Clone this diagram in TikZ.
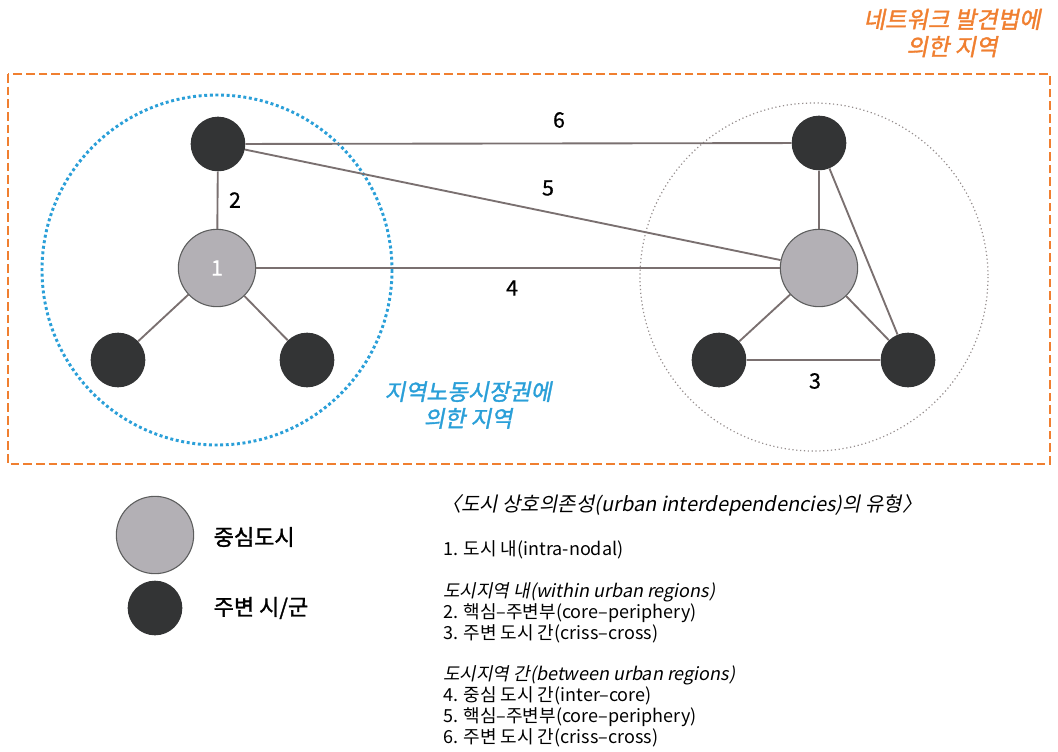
\documentclass[tikz,border=0pt]{standalone}
\usepackage{fontspec}
\setmainfont{Noto Sans CJK KR}
\newfontfamily\krit{Noto Sans CJK KR}[FakeSlant=0.2]
\newfontfamily\krbd{Noto Sans CJK KR}[FakeBold=1.5]
\newfontfamily\krbi{Noto Sans CJK KR}[FakeSlant=0.2,FakeBold=1.5]
\newfontfamily\krmd{Noto Sans CJK KR}[FakeBold=0.8]
\usetikzlibrary{positioning}
\definecolor{netorange}{HTML}{F07F30}
\definecolor{lmblue}{HTML}{2A9FD8}
\definecolor{linkgray}{HTML}{7A7070}
\definecolor{coregray}{HTML}{B3B0B5}
\definecolor{satdark}{HTML}{333435}

\begin{document}
\begin{tikzpicture}[x=0.75pt, y=-0.75pt,
    core/.style={circle, draw=satdark!80, line width=0.8pt, fill=coregray, minimum size=58pt, inner sep=0pt},
    sat/.style={circle, fill=satdark, minimum size=41pt, inner sep=0pt},
    link/.style={draw=linkgray, line width=1.4pt},
    num/.style={font=\krmd\fontsize{16}{18}\selectfont},
    item/.style={anchor=west, inner sep=0pt, font=\fontsize{13.5}{15}\selectfont}
]
    \useasboundingbox (0,0) rectangle (1058,751);

    % regions
    \draw[netorange, line width=2pt, dash pattern=on 6.5pt off 3pt] (8,74) rectangle (1050,464);
    \draw[lmblue, line width=2.2pt, dotted] (217,270) circle (175);
    \draw[linkgray!80, line width=0.9pt, dotted] (814,277) circle (174);

    % left urban region
    \node[core] (lcore) at (217,268) {\color{white}\krmd\fontsize{16}{18}\selectfont 1};
    \node[sat] (ltop) at (218,144) {};
    \node[sat] (lbl) at (118,360) {};
    \node[sat] (lbr) at (307,360) {};

    % right urban region
    \node[core] (rcore) at (819,268) {};
    \node[sat] (rtop) at (819,143) {};
    \node[sat] (rbl) at (719,360) {};
    \node[sat] (rbr) at (908,360) {};

    % links
    \draw[link] (ltop) -- (lcore);
    \draw[link] (lcore) -- (lbl);
    \draw[link] (lcore) -- (lbr);
    \draw[link] (rtop) -- (rcore);
    \draw[link] (rcore) -- (rbl);
    \draw[link] (rcore) -- (rbr);
    \draw[link] (rtop) -- (rbr);
    \draw[link] (rbl) -- (rbr);
    \draw[link] (lcore) -- (rcore);
    \draw[link] (ltop) -- (rcore);
    \draw[link] (ltop) -- (rtop);

    \node[num] (l2) at (235,200) {2};
    \node[num] (l3) at (815,381) {3};
    \node[num] (l4) at (512,288) {4};
    \node[num] (l5) at (548,188) {5};
    \node[num] (l6) at (559,120) {6};

    % region labels
    \node[text=netorange, align=center, font=\krbi\fontsize{17.5}{20.5}\selectfont] (netlabel) at (952,33) {네트워크 발견법에\\의한 지역};
    \node[text=lmblue, align=center, font=\krbi\fontsize{17}{20}\selectfont] (lmlabel) at (468,405) {지역노동시장권에\\의한 지역};

    % legend
    \node[core] (legcore) at (155,535) {};
    \node[sat] (legsat) at (155,608) {};
    \node[anchor=west, font=\krbd\fontsize{16.5}{18}\selectfont] (legcoretxt) at (209,537) {중심도시};
    \node[anchor=west, font=\krbd\fontsize{16.5}{18}\selectfont] (legsattxt) at (209,608) {주변 시/군};

    % types list
    \node[item, font=\krit\fontsize{15}{17}\selectfont] (ttitle) at (441,505) {〈도시 상호의존성(urban interdependencies)의 유형〉};
    \node[item] (t1) at (443,550) {1. 도시 내(intra-nodal)};
    \node[item, font=\krit\fontsize{13.5}{15}\selectfont] (tin) at (443,592) {도시지역 내(within urban regions)};
    \node[item] (t2) at (443,613) {2. 핵심–주변부(core–periphery)};
    \node[item] (t3) at (443,634) {3. 주변 도시 간(criss–cross)};
    \node[item, font=\krit\fontsize{13.5}{15}\selectfont] (tbetween) at (443,675) {도시지역 간(between urban regions)};
    \node[item] (t4) at (443,696) {4. 중심 도시 간(inter–core)};
    \node[item] (t5) at (443,717) {5. 핵심–주변부(core–periphery)};
    \node[item] (t6) at (443,738) {6. 주변 도시 간(criss–cross)};
\end{tikzpicture}
\end{document}
